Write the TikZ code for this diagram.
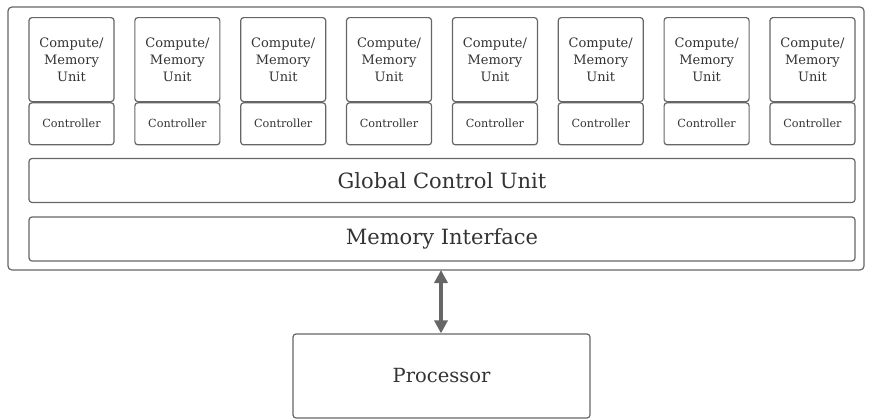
\documentclass[tikz,border=0pt]{standalone}
\usepackage{fontspec}
\setmainfont{DejaVu Serif}
\usetikzlibrary{arrows.meta}
\definecolor{edge}{HTML}{666666}
\definecolor{ink}{HTML}{333333}
\tikzset{
  box/.style={draw=edge, line width=1.2pt, rounded corners=3pt, inner sep=0pt, text=ink, align=center},
  unitbox/.style={box, minimum width=85pt, minimum height=84pt, font=\fontsize{13}{17}\selectfont},
  ctrlbox/.style={box, minimum width=85pt, minimum height=42pt, font=\fontsize{11.2}{13}\selectfont},
  widebox/.style={box, minimum width=826pt, minimum height=44pt, font=\fontsize{21}{24}\selectfont},
  link/.style={edge, line width=4.5pt, {Triangle[length=13pt,width=13pt]}-{Triangle[length=13pt,width=13pt]}}
}
\begin{document}
\begin{tikzpicture}[x=1pt,y=-1pt]
\useasboundingbox (0,0) rectangle (872,418);
\node[box, minimum width=856pt, minimum height=263pt, rounded corners=4pt] (outer) at (436,138.5) {};
\foreach \i in {0,...,7} {
  \pgfmathsetmacro{\cx}{71.5+105.85*\i}
  \node[unitbox, anchor=north] (cmu\i) at (\cx,17) {Compute/\\Memory\\Unit};
  \node[ctrlbox, anchor=north] (ctl\i) at (cmu\i.south) {Controller};
}
\node[widebox] (gcu) at (442,180.5) {Global Control Unit};
\node[widebox] (mi) at (442,239) {Memory Interface};
\node[box, minimum width=297pt, minimum height=84pt, font=\fontsize{19.5}{22}\selectfont] (proc) at (441.5,376) {Processor};
\coordinate (top) at (441,270);
\draw[link] (top) -- (proc.north -| top);
\end{tikzpicture}
\end{document}
